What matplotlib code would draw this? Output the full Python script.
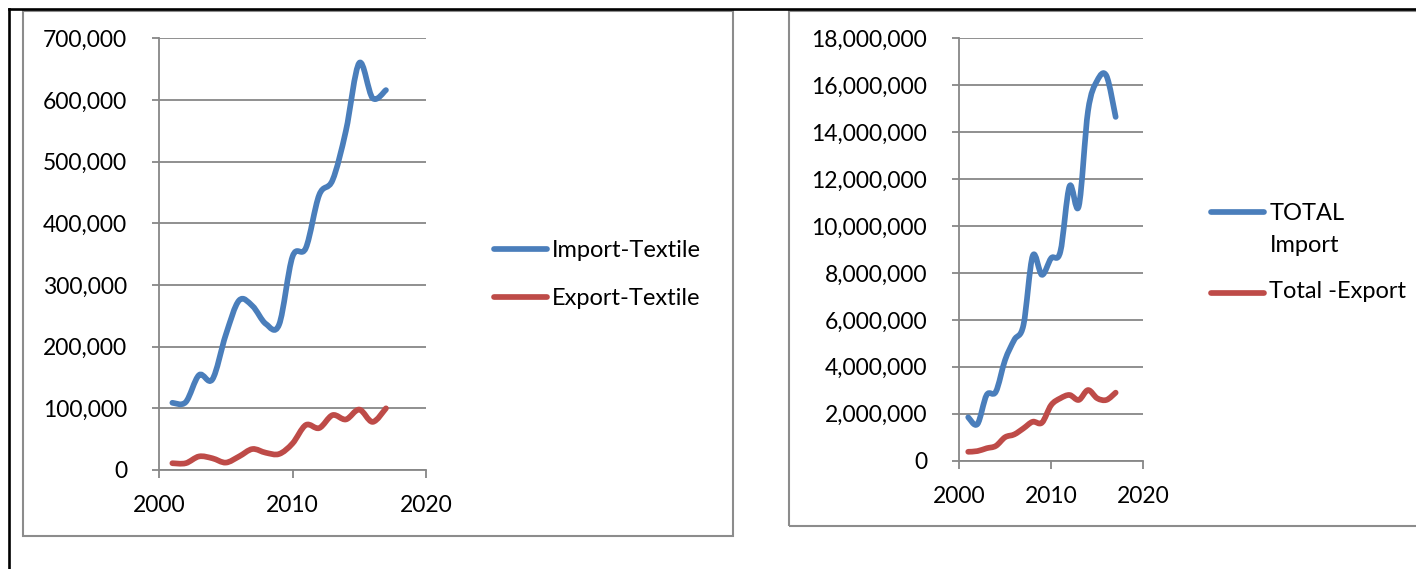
import matplotlib
matplotlib.use("Agg")
import matplotlib.pyplot as plt
from matplotlib.path import Path
from matplotlib.patches import PathPatch, Rectangle
from matplotlib.lines import Line2D
from matplotlib.ticker import FuncFormatter

plt.rcParams['font.family'] = ['Lato', 'DejaVu Sans']

# ---------------- data ----------------
years = [2001, 2002, 2003, 2004, 2005, 2006, 2007, 2008, 2009,
         2010, 2011, 2012, 2013, 2014, 2015, 2016, 2017]

import_textile = [109000, 110000, 154000, 147000, 219000, 275000, 266000, 237000, 236000,
                  346000, 360000, 446000, 470000, 550000, 660000, 603000, 616000]
export_textile = [11000, 11000, 22000, 19000, 12000, 22000, 34000, 28000, 26000,
                  43000, 73000, 68000, 89000, 82000, 98000, 78000, 100000]

total_import = [1850000, 1560000, 2800000, 2940000, 4290000, 5150000, 5790000, 8730000, 7920000,
                8630000, 8910000, 11700000, 10850000, 14900000, 16200000, 16400000, 14650000]
total_export = [380000, 410000, 530000, 630000, 1000000, 1120000, 1380000, 1660000, 1620000,
                2370000, 2660000, 2800000, 2590000, 3010000, 2660000, 2590000, 2900000]

left_labels = ["Import-Textile", "Export-Textile"]
right_labels = ["TOTAL\nImport", "Total -Export"]

x_ticks = [2000, 2010, 2020]

BLUE = "#4A7EBB"
RED = "#BE4B48"
GRID = "#878787"

W, H = 1416, 569
fig = plt.figure(figsize=(W / 100, H / 100), dpi=100)


def fx(x):
    return x / W


def fy(y):
    return 1 - y / H


def smooth_path(xs, ys):
    """Excel-style smoothed line: cubic Bezier through every data point."""
    n = len(xs)
    verts = [(xs[0], ys[0])]
    codes = [Path.MOVETO]
    for i in range(n - 1):
        i0 = max(i - 1, 0)
        i3 = min(i + 2, n - 1)
        c1 = (xs[i] + (xs[i + 1] - xs[i0]) / 6.0, ys[i] + (ys[i + 1] - ys[i0]) / 6.0)
        c2 = (xs[i + 1] - (xs[i3] - xs[i]) / 6.0, ys[i + 1] - (ys[i3] - ys[i]) / 6.0)
        verts += [c1, c2, (xs[i + 1], ys[i + 1])]
        codes += [Path.CURVE4, Path.CURVE4, Path.CURVE4]
    return Path(verts, codes)


def style_axes(ax, ymax, ystep):
    ax.set_xlim(2000, 2020)
    ax.set_ylim(0, ymax)
    ax.set_xticks(x_ticks)
    ax.set_yticks(range(0, ymax + 1, ystep))
    ax.yaxis.set_major_formatter(FuncFormatter(lambda v, p: f"{int(v):,}"))
    ax.grid(axis='y', color=GRID, linewidth=1.3)
    ax.set_axisbelow(True)
    for s in ['top', 'right']:
        ax.spines[s].set_visible(False)
    for s in ['left', 'bottom']:
        ax.spines[s].set_color(GRID)
        ax.spines[s].set_linewidth(1.3)
    ax.tick_params(axis='y', length=5, width=1.3, color=GRID, pad=18, labelsize=16.5)
    ax.tick_params(axis='x', length=6, width=1.3, color=GRID, pad=12, labelsize=16.5)
    ax.set_facecolor('none')


def draw_series(ax, xs, ys, color):
    patch = PathPatch(smooth_path(xs, ys), facecolor='none', edgecolor=color,
                      linewidth=4.1, capstyle='round', joinstyle='round')
    ax.add_patch(patch)


# ---------------- frames ----------------
fig.add_artist(Rectangle((fx(23), fy(536)), fx(733) - fx(23), fy(11) - fy(536),
                         transform=fig.transFigure, fill=False, edgecolor="#8C8C8C", linewidth=1.5))
fig.add_artist(Rectangle((fx(789), fy(526)), fx(1425) - fx(789), fy(11) - fy(526),
                         transform=fig.transFigure, fill=False, edgecolor="#8C8C8C", linewidth=1.5))
fig.add_artist(Line2D([fx(8.7), fx(1416)], [fy(9.3), fy(9.3)], transform=fig.transFigure,
                      color="black", linewidth=1.9))
fig.add_artist(Line2D([fx(8.7), fx(8.7)], [fy(9.3), fy(569)], transform=fig.transFigure,
                      color="black", linewidth=1.9))

# ---------------- left chart ----------------
ax1 = fig.add_axes([fx(159), fy(470), fx(426) - fx(159), fy(38.3) - fy(470)])
style_axes(ax1, 700000, 100000)
draw_series(ax1, years, import_textile, BLUE)
draw_series(ax1, years, export_textile, RED)

# ---------------- right chart ----------------
ax2 = fig.add_axes([fx(959), fy(460.7), fx(1143.3) - fx(959), fy(38.3) - fy(460.7)])
style_axes(ax2, 18000000, 2000000)
draw_series(ax2, years, total_import, BLUE)
draw_series(ax2, years, total_export, RED)

LEG_FS = 17


# ---------------- legends ----------------
def legend_item(x0, x1, y_line, y_base, text, color):
    fig.add_artist(Line2D([fx(x0), fx(x1)], [fy(y_line), fy(y_line)], transform=fig.transFigure,
                          color=color, linewidth=4.1, solid_capstyle='round'))
    fig.text(fx(x1 + 5), fy(y_base), text, fontsize=LEG_FS, va='baseline', ha='left')


legend_item(494, 547, 249, 257, left_labels[0], BLUE)
legend_item(494, 547, 297, 305, left_labels[1], RED)

fig.add_artist(Line2D([fx(1211), fx(1264)], [fy(212), fy(212)], transform=fig.transFigure,
                      color=BLUE, linewidth=4.1, solid_capstyle='round'))
tl = right_labels[0].split("\n")
fig.text(fx(1270), fy(219.5), tl[0], fontsize=LEG_FS, va='baseline', ha='left')
fig.text(fx(1270), fy(252), tl[1], fontsize=LEG_FS, va='baseline', ha='left')
legend_item(1211, 1264, 292.5, 298, right_labels[1], RED)

fig.savefig("out.png", dpi=100)
